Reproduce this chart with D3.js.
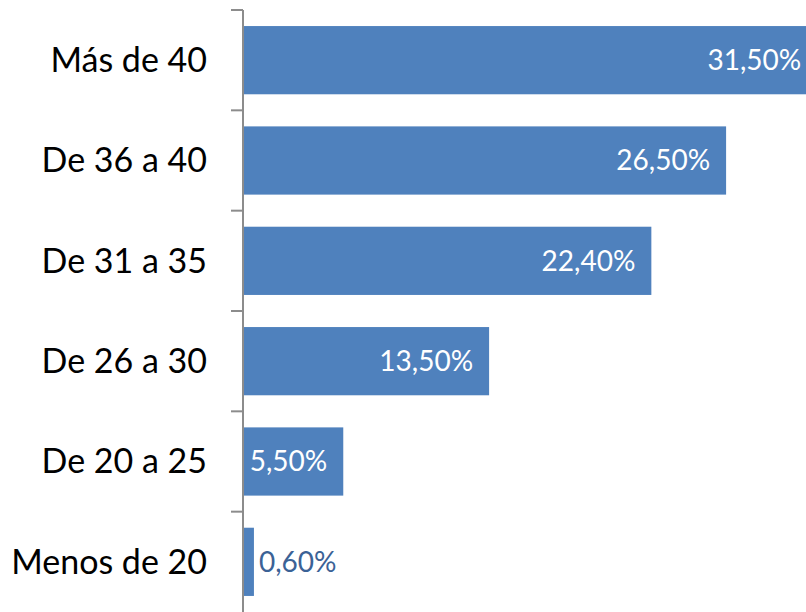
<!DOCTYPE html>
<html>
<head>
<meta charset="utf-8">
<script src="https://cdn.jsdelivr.net/npm/d3@7"></script>
<style>
  body { margin: 0; background: #fff; }
  svg { display: block; }
</style>
</head>
<body>
<div id="chart"></div>
<script>
var categories = ["Más de 40", "De 36 a 40", "De 31 a 35", "De 26 a 30", "De 20 a 25", "Menos de 20"];
var values = [31.5, 26.5, 22.4, 13.5, 5.5, 0.6];
var valueLabels = ["31,50%", "26,50%", "22,40%", "13,50%", "5,50%", "0,60%"];

var svgWidth = 806;
var svgHeight = 612;
var axisX = 243;

var svg = d3.select("#chart")
  .append("svg")
  .attr("width", svgWidth)
  .attr("height", svgHeight);

// x scale: ~18.23 px per percent point, the top bar runs off the right edge
var xScale = d3.scaleLinear()
  .domain([0, 35])
  .range([axisX, axisX + 35 * 18.23]);

var yScale = d3.scaleBand()
  .domain(categories)
  .range([10, 612])
  .paddingInner(0.32)
  .paddingOuter(0.16);

var data = categories.map(function(c, i) {
  return { cat: c, value: values[i], label: valueLabels[i] };
});

// bars
svg.selectAll("rect.bar")
  .data(data)
  .enter()
  .append("rect")
  .attr("class", "bar")
  .attr("x", xScale(0))
  .attr("y", d => yScale(d.cat))
  .attr("width", d => xScale(d.value) - xScale(0))
  .attr("height", yScale.bandwidth())
  .attr("fill", "#4f81bd");

// axis with ticks between categories
var step = yScale.step();
var tickYs = categories.map((c, i) => 10 + i * step);
var axisG = svg.append("g");
axisG.append("line")
  .attr("x1", axisX).attr("x2", axisX)
  .attr("y1", 10).attr("y2", svgHeight + 5)
  .attr("stroke", "#8c8c8c")
  .attr("stroke-width", 2);
axisG.selectAll("line.tick")
  .data(tickYs)
  .enter()
  .append("line")
  .attr("class", "tick")
  .attr("x1", axisX - 12).attr("x2", axisX)
  .attr("y1", d => d).attr("y2", d => d)
  .attr("stroke", "#8c8c8c")
  .attr("stroke-width", 2);

// category labels
svg.selectAll("text.cat")
  .data(data)
  .enter()
  .append("text")
  .attr("class", "cat")
  .attr("x", axisX - 36)
  .attr("y", d => yScale(d.cat) + yScale.bandwidth() / 2)
  .attr("dy", "0.35em")
  .attr("text-anchor", "end")
  .attr("font-family", "Lato, 'Open Sans', sans-serif")
  .attr("font-size", "34px")
  .attr("fill", "#000")
  .text(d => d.cat);

// value labels: inside the bar, outside when the bar is too short
svg.selectAll("text.val")
  .data(data)
  .enter()
  .append("text")
  .attr("class", "val")
  .attr("x", d => d.value < 3 ? xScale(d.value) + 5 : xScale(d.value) - 16)
  .attr("y", d => yScale(d.cat) + yScale.bandwidth() / 2)
  .attr("dy", "0.35em")
  .attr("text-anchor", d => d.value < 3 ? "start" : "end")
  .attr("font-family", "Lato, 'Open Sans', sans-serif")
  .attr("font-size", "28px")
  .attr("fill", d => d.value < 3 ? "#3b6296" : "#fff")
  .text(d => d.label);
</script>
</body>
</html>
